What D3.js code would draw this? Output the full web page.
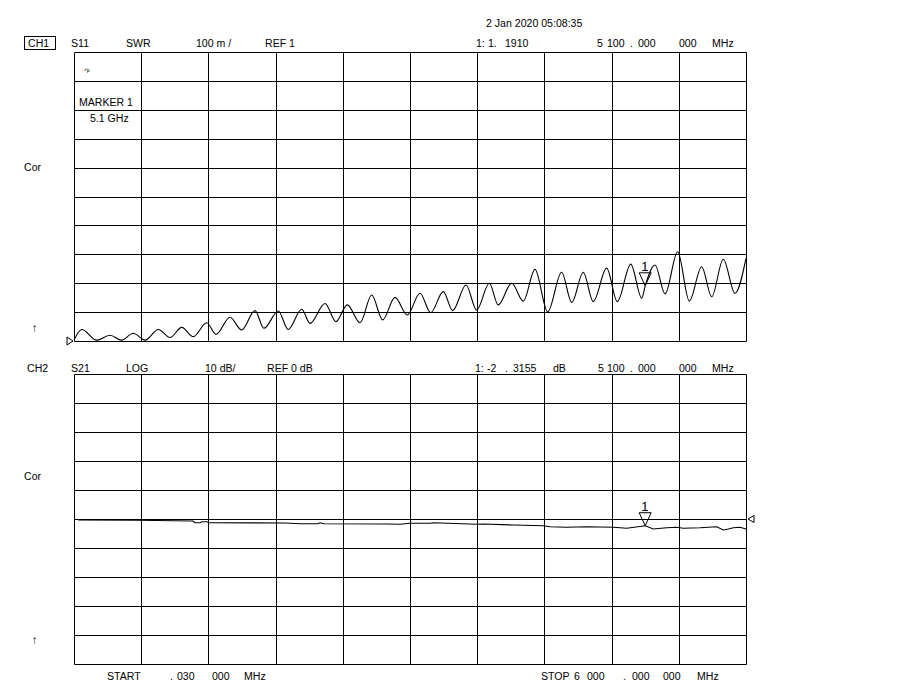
<!DOCTYPE html>
<html>
<head>
<meta charset="utf-8">
<script src="https://cdn.jsdelivr.net/npm/d3@7/dist/d3.min.js"></script>
<style>
  html, body { margin: 0; padding: 0; background: #ffffff; }
  svg { display: block; }
  text { font-family: "Liberation Sans", Arial, sans-serif; font-size: 11.5px; fill: #000; }
</style>
</head>
<body>
<svg id="chart" width="901" height="696"></svg>
<script>
// ---------------- DATA ----------------
const startMHz = 0.03;
const stopMHz = 6000;
const markerMHz = 5100;

// CH1: S11 SWR trace (frequency MHz, SWR)
const s11Freq = [0.03, 69, 203, 321, 426, 529, 634, 753, 857, 962, 1065, 1185, 1268, 1393, 1497, 1616, 1696, 1824, 1913, 2033, 2107, 2241, 2339, 2440, 2554, 2658, 2756, 2866, 2976, 3089, 3185, 3297, 3381, 3500, 3595, 3708, 3788, 3908, 4012, 4116, 4229, 4354, 4444, 4547, 4636, 4756, 4851, 4971, 5069, 5100, 5188, 5277, 5390, 5494, 5604, 5694, 5797, 5902, 6000];
const s11Swr  = [1.003, 1.040, 1.003, 1.020, 1.003, 1.027, 1.003, 1.040, 1.012, 1.047, 1.015, 1.063, 1.023, 1.082, 1.038, 1.105, 1.044, 1.104, 1.040, 1.110, 1.061, 1.130, 1.067, 1.125, 1.063, 1.159, 1.073, 1.151, 1.090, 1.165, 1.098, 1.171, 1.105, 1.194, 1.107, 1.200, 1.125, 1.200, 1.138, 1.248, 1.101, 1.238, 1.133, 1.238, 1.136, 1.252, 1.136, 1.266, 1.148, 1.191, 1.263, 1.163, 1.309, 1.138, 1.257, 1.153, 1.283, 1.165, 1.286];

// CH2: S21 LOG trace (frequency MHz, dB)
const s21Freq = [36, 560, 1063, 1080, 1125, 1143, 1188, 1205, 1884, 2018, 2179, 2196, 2232, 2792, 2911, 3000, 3179, 3208, 3595, 3654, 3922, 4190, 4250, 4399, 4578, 4815, 4935, 5100, 5172, 5292, 5381, 5440, 5589, 5738, 5797, 5842, 5887, 5946, 6000];
const s21dB   = [-0.34, -0.45, -0.69, -1.28, -1.28, -0.93, -0.93, -1.28, -1.38, -1.62, -1.62, -1.28, -1.62, -1.72, -1.83, -1.48, -1.48, -1.28, -1.83, -1.72, -2.07, -2.31, -2.66, -2.86, -2.66, -2.86, -3.21, -2.3155, -3.45, -3.00, -2.86, -3.21, -3.00, -2.66, -3.79, -3.45, -3.00, -2.86, -3.45];

// Scale settings
const swrRef = 1, swrPerDiv = 0.1;      // REF 1, 100 m /
const dbRef = 0, dbPerDiv = 10;         // REF 0 dB, 10 dB/
const divisions = 10;
const markerSwr = 1.1910;
const markerDb = -2.3155;

// ---------------- LAYOUT ----------------
const svg = d3.select("#chart");
const left = 74, right = 746;
const p1 = { top: 52, bottom: 341 };
const p2 = { top: 374, bottom: 664 };

const x = d3.scaleLinear().domain([startMHz, stopMHz]).range([left, right]);
const y1 = d3.scaleLinear().domain([swrRef, swrRef + swrPerDiv * divisions]).range([p1.bottom, p1.top]);
// REF position for CH2 is at the 5th division from the bottom
const y2 = d3.scaleLinear().domain([dbRef - dbPerDiv * 5, dbRef + dbPerDiv * 5]).range([p2.bottom, p2.top]);

const crisp = v => Math.round(v) + 0.5;

function drawGrid(yScale) {
  const g = svg.append("g");
  const xt = d3.range(divisions + 1).map(i => startMHz + i * (stopMHz - startMHz) / divisions);
  const yd = yScale.domain();
  const yt = d3.range(divisions + 1).map(i => yd[0] + i * (yd[1] - yd[0]) / divisions);
  g.selectAll("line.v").data(xt).join("line")
    .attr("x1", d => crisp(x(d))).attr("x2", d => crisp(x(d)))
    .attr("y1", crisp(yScale(yd[0]))).attr("y2", crisp(yScale(yd[1])))
    .attr("stroke", "#000").attr("stroke-width", 1);
  g.selectAll("line.h").data(yt).join("line")
    .attr("y1", d => crisp(yScale(d))).attr("y2", d => crisp(yScale(d)))
    .attr("x1", crisp(x(startMHz))).attr("x2", crisp(x(stopMHz)))
    .attr("stroke", "#000").attr("stroke-width", 1);
}

drawGrid(y1);
drawGrid(y2);

// ---------------- TRACES ----------------
const s11 = s11Freq.map((f, i) => [f, s11Swr[i]]);
const s21 = s21Freq.map((f, i) => [f, s21dB[i]]);

svg.append("path")
  .attr("d", d3.line().x(d => x(d[0])).y(d => y1(d[1])).curve(d3.curveMonotoneX)(s11))
  .attr("fill", "none").attr("stroke", "#000").attr("stroke-width", 1.1);

svg.append("path")
  .attr("d", d3.line().x(d => x(d[0])).y(d => y2(d[1]))(s21))
  .attr("fill", "none").attr("stroke", "#000").attr("stroke-width", 1.1);

// ---------------- TEXT helper ----------------
function t(xp, yp, s, size) {
  const el = svg.append("text")
    .attr("transform", `translate(${xp},${yp}) scale(0.92,1)`)
    .text(s);
  if (size) el.style("font-size", size + "px");
  return el;
}

// ---------------- MARKERS ----------------
function marker(mx, my) {
  const g = svg.append("g");
  g.append("path")
    .attr("d", `M${mx},${my} L${mx - 6},${my - 13} L${mx + 6},${my - 13} Z`)
    .attr("fill", "none").attr("stroke", "#000").attr("stroke-width", 1);
  g.append("text").attr("x", mx - 4).attr("y", my - 14.5)
    .style("font-size", "13px").text("1");
}
marker(x(markerMHz), y1(markerSwr));
marker(x(markerMHz), y2(markerDb));

// Reference level pointers
const r1y = y1(swrRef);
svg.append("path").attr("d", `M${left - 7},${r1y - 4} L${left - 1},${r1y} L${left - 7},${r1y + 4} Z`)
  .attr("fill", "none").attr("stroke", "#000");
const r2y = y2(dbRef);
svg.append("path").attr("d", `M${right + 8},${r2y - 3.5} L${right + 2},${r2y} L${right + 8},${r2y + 3.5} Z`)
  .attr("fill", "none").attr("stroke", "#000");

// ---------------- TEXT ----------------
t(486, 27, "2 Jan 2020  05:08:35");

// CH1 header
svg.append("rect").attr("x", 24.5).attr("y", 36.5).attr("width", 31).attr("height", 13)
  .attr("fill", "none").attr("stroke", "#000");
t(28, 47, "CH1");
t(71, 47, "S11");
t(126, 47, "SWR");
t(196, 47, "100 m /");
t(265, 47, "REF 1");
t(476, 47, "1:");
t(488, 47, "1.");
t(505, 47, "1910");
t(597, 47, "5");
t(607, 47, "100");
t(630, 47, ".");
t(638, 47, "000");
t(679, 47, "000");
t(712, 47, "MHz");

t(84, 74, "ᐟᵖ", 8);
t(79, 106, "MARKER 1");
t(90, 122, "5.1 GHz");

t(24, 171, "Cor");
t(32, 332, "↑");

// CH2 header
t(27, 372, "CH2");
t(71, 372, "S21");
t(126, 372, "LOG");
t(205, 372, "10 dB/");
t(267, 372, "REF 0 dB");
t(475, 372, "1:");
t(487, 372, "-2");
t(505, 372, ".");
t(513, 372, "3155");
t(553, 372, "dB");
t(598, 372, "5");
t(607, 372, "100");
t(630, 372, ".");
t(638, 372, "000");
t(679, 372, "000");
t(712, 372, "MHz");

t(24, 480, "Cor");
t(32, 644, "↑");

// Footer
t(107, 680, "START");
t(170, 680, ".");
t(177, 680, "030");
t(212, 680, "000");
t(244, 680, "MHz");
t(541, 680, "STOP");
t(574, 680, "6");
t(587, 680, "000");
t(623, 680, ".");
t(632, 680, "000");
t(663, 680, "000");
t(697, 680, "MHz");
</script>
</body>
</html>
